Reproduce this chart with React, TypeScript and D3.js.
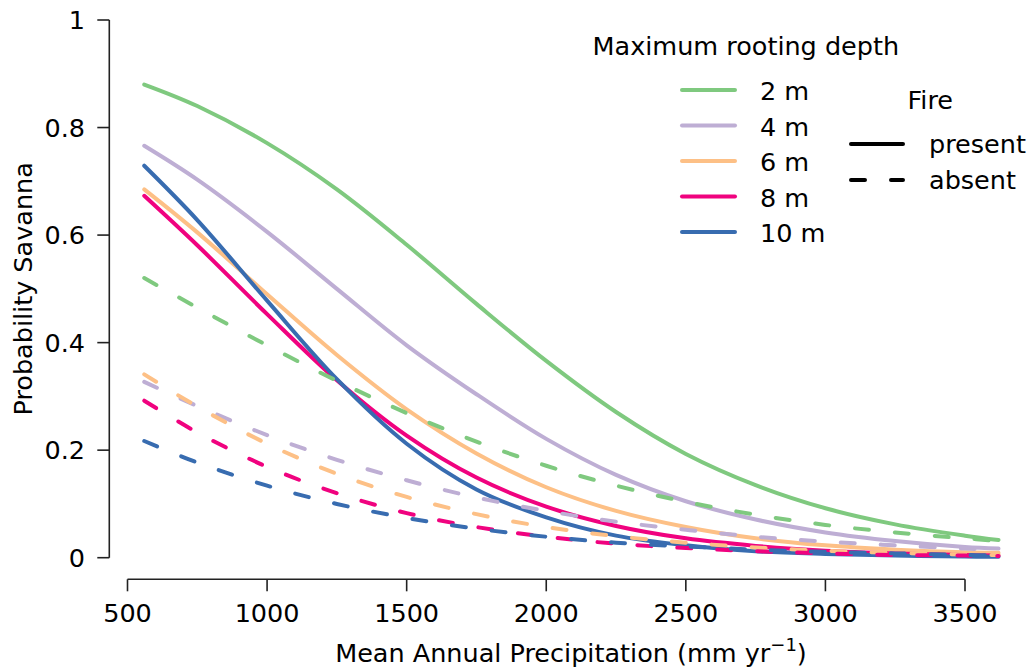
import React from "react";
import * as d3 from "d3";

// Mean annual precipitation (mm/yr) at which the fitted probabilities are given
const precip = [560, 750, 1000, 1250, 1500, 1750, 2000, 2250, 2500, 2750, 3000, 3250, 3500, 3620];

const depthLabels = ["2 m", "4 m", "6 m", "8 m", "10 m"];
const depthColors = ["#7FC97F", "#BEAED4", "#FDC086", "#F0027F", "#386CB0"];

// Probability of savanna with fire present, one array per maximum rooting depth
const firePresent2m = [0.880, 0.840, 0.771, 0.685, 0.582, 0.472, 0.366, 0.271, 0.193, 0.135, 0.092, 0.062, 0.041, 0.033];
const firePresent4m = [0.766, 0.703, 0.606, 0.500, 0.395, 0.304, 0.221, 0.154, 0.105, 0.071, 0.047, 0.031, 0.020, 0.017];
const firePresent6m = [0.685, 0.605, 0.490, 0.377, 0.276, 0.194, 0.131, 0.087, 0.057, 0.036, 0.023, 0.015, 0.010, 0.009];
const firePresent8m = [0.673, 0.581, 0.453, 0.330, 0.227, 0.149, 0.095, 0.059, 0.036, 0.022, 0.013, 0.008, 0.005, 0.004];
const firePresent10m = [0.729, 0.628, 0.478, 0.332, 0.212, 0.127, 0.075, 0.041, 0.023, 0.012, 0.007, 0.004, 0.002, 0.002];

// Probability of savanna with fire absent
const fireAbsent2m = [0.520, 0.465, 0.395, 0.329, 0.269, 0.216, 0.171, 0.134, 0.104, 0.080, 0.061, 0.047, 0.036, 0.031];
const fireAbsent4m = [0.327, 0.282, 0.228, 0.182, 0.144, 0.112, 0.087, 0.067, 0.052, 0.039, 0.030, 0.023, 0.017, 0.015];
const fireAbsent6m = [0.341, 0.281, 0.212, 0.156, 0.113, 0.081, 0.057, 0.040, 0.028, 0.019, 0.013, 0.009, 0.006, 0.005];
const fireAbsent8m = [0.292, 0.233, 0.169, 0.120, 0.083, 0.057, 0.039, 0.026, 0.018, 0.012, 0.008, 0.005, 0.004, 0.003];
const fireAbsent10m = [0.217, 0.177, 0.134, 0.100, 0.074, 0.054, 0.039, 0.028, 0.021, 0.015, 0.011, 0.008, 0.005, 0.004];

const presentSeries = [firePresent2m, firePresent4m, firePresent6m, firePresent8m, firePresent10m];
const absentSeries = [fireAbsent2m, fireAbsent4m, fireAbsent6m, fireAbsent8m, fireAbsent10m];

const xTicks = [500, 1000, 1500, 2000, 2500, 3000, 3500];
const yTicks = [0, 0.2, 0.4, 0.6, 0.8, 1];
const yTickLabels = ["0", "0.2", "0.4", "0.6", "0.8", "1"];

const fireLabels = ["present", "absent"];

const W = 1033;
const H = 668;
const FONT = "'DejaVu Sans', sans-serif";
const FS = 25.5;
const LW = 4;
const DASH = "14 26";

export default function App() {
  const x = d3.scaleLinear().domain([500, 3500]).range([127.5, 965]);
  const y = d3.scaleLinear().domain([0, 1]).range([557.7, 20]);

  const line = (vals: number[]) =>
    d3
      .line<number>()
      .x((_, i) => x(precip[i]))
      .y((v) => y(v))
      .curve(d3.curveCatmullRom.alpha(0.5))(vals) as string;

  const axisX = 109.3;
  const axisY = 579.3;
  const tickLen = 12;

  const legendRowY = [90, 125.5, 161, 196.5, 232];

  return (
    <svg
      width={W}
      height={H}
      viewBox={`0 0 ${W} ${H}`}
      style={{ position: "absolute", left: 0, top: 0, display: "block", background: "#fff" }}
      fontFamily={FONT}
      fontSize={FS}
    >
      <rect x={0} y={0} width={W} height={H} fill="#fff" />

      {/* y axis */}
      <line x1={axisX} x2={axisX} y1={y(0)} y2={y(1)} stroke="#222" strokeWidth={1.6} />
      {yTicks.map((t, i) => (
        <g key={"yt" + i}>
          <line x1={axisX - tickLen} x2={axisX} y1={y(t)} y2={y(t)} stroke="#222" strokeWidth={1.6} />
          <text x={85} y={y(t)} dy={9.2} textAnchor="end" fill="#000">
            {yTickLabels[i]}
          </text>
        </g>
      ))}

      {/* x axis */}
      <line x1={x(500)} x2={x(3500)} y1={axisY} y2={axisY} stroke="#222" strokeWidth={1.6} />
      {xTicks.map((t) => (
        <g key={"xt" + t}>
          <line x1={x(t)} x2={x(t)} y1={axisY} y2={axisY + tickLen} stroke="#222" strokeWidth={1.6} />
          <text x={x(t)} y={622.3} textAnchor="middle" fill="#000">
            {t}
          </text>
        </g>
      ))}

      {/* axis titles */}
      <text x={571} y={661.7} textAnchor="middle" fill="#000">
        Mean Annual Precipitation (mm yr
        <tspan dy={-11} fontSize={18}>
          −1
        </tspan>
        <tspan dy={11}>)</tspan>
      </text>
      <text
        transform={`translate(31.5, ${y(0.5)}) rotate(-90)`}
        textAnchor="middle"
        fill="#000"
      >
        Probability Savanna
      </text>

      {/* fire present curves */}
      {presentSeries.map((s, i) => (
        <path
          key={"p" + i}
          d={line(s)}
          fill="none"
          stroke={depthColors[i]}
          strokeWidth={LW}
          strokeLinecap="round"
          strokeLinejoin="round"
        />
      ))}
      {/* fire absent curves */}
      {absentSeries.map((s, i) => (
        <path
          key={"a" + i}
          d={line(s)}
          fill="none"
          stroke={depthColors[i]}
          strokeWidth={LW}
          strokeDasharray={DASH}
          strokeLinecap="round"
          strokeLinejoin="round"
        />
      ))}

      {/* rooting depth legend */}
      <text x={592.5} y={55} fill="#000">
        Maximum rooting depth
      </text>
      {depthLabels.map((lab, i) => (
        <g key={"ld" + i}>
          <line
            x1={682}
            x2={735}
            y1={legendRowY[i]}
            y2={legendRowY[i]}
            stroke={depthColors[i]}
            strokeWidth={LW}
            strokeLinecap="round"
          />
          <text x={760} y={legendRowY[i]} dy={10} fill="#000">
            {lab}
          </text>
        </g>
      ))}

      {/* fire legend */}
      <text x={907.5} y={109.3} fill="#000">
        Fire
      </text>
      {fireLabels.map((lab, i) => {
        const ly = i === 0 ? 144 : 180;
        return (
          <g key={"lf" + i}>
            <line
              x1={851}
              x2={903}
              y1={ly}
              y2={ly}
              stroke="#000"
              strokeWidth={LW}
              strokeLinecap="round"
              strokeDasharray={i === 0 ? undefined : DASH}
            />
            <text x={929} y={ly} dy={9} fill="#000">
              {lab}
            </text>
          </g>
        );
      })}
    </svg>
  );
}
